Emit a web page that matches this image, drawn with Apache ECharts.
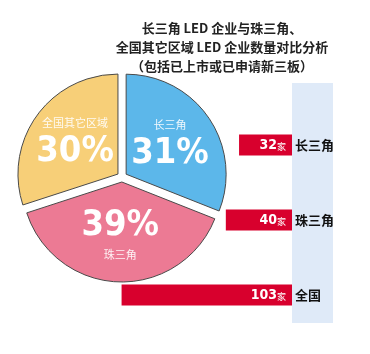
<!DOCTYPE html>
<html>
<head>
<meta charset="utf-8">
<script src="https://cdn.jsdelivr.net/npm/echarts@6/dist/echarts.min.js"></script>
<style>
  html, body { margin: 0; padding: 0; background: #fff; }
  #main { width: 370px; height: 354px; }
</style>
</head>
<body>
<div id="main"></div>
<script>
// 占比（饼图）
var pieNames = ['长三角', '珠三角', '全国其它区域']
var pieValues = [31, 39, 30]
var pieColors = ['#5cb7ea', '#ec7a94', '#f7cf78']

// 企业数量（条形图）
var barNames = ['长三角', '珠三角', '全国']
var barValues = [32, 40, 103]

var titleLines = ['长三角 LED 企业与珠三角、', '全国其它区域 LED 企业数量对比分析', '（包括已上市或已申请新三板）']

var numFont = '"DejaVu Sans Condensed", Roboto, sans-serif'

var chart = echarts.init(document.getElementById('main'))

var pieData = pieNames.map(function (n, i) {
  return {
    name: n,
    value: pieValues[i],
    selected: true,
    itemStyle: { color: pieColors[i] },
  }
})

option = {
  backgroundColor: '#fff',
  animation: false,
  title: {
    text: titleLines.join('\n'),
    left: 217,
    top: 14,
    textAlign: 'center',
    textStyle: {
      fontFamily: 'Noto Sans CJK SC',
      fontSize: 13,
      fontWeight: 'bold',
      color: '#222',
      lineHeight: 19,
    },
  },
  graphic: [
    {
      type: 'rect',
      z: 0,
      shape: { x: 292, y: 83, width: 41, height: 240 },
      style: { fill: '#dfeaf8' },
    },
  ],
  grid: { left: 110, right: 78, top: 107.5, bottom: 21.5 },
  xAxis: {
    type: 'value',
    inverse: true,
    min: 0,
    max: 110,
    show: false,
  },
  yAxis: {
    type: 'category',
    data: barNames,
    inverse: true,
    position: 'right',
    axisLine: { show: false },
    axisTick: { show: false },
    axisLabel: {
      margin: 3,
      align: 'left',
      color: '#111',
      fontFamily: 'Noto Sans CJK SC',
      fontSize: 13,
      fontWeight: 'bold',
    },
  },
  series: [
    {
      name: '企业数量',
      type: 'bar',
      z: 3,
      data: barValues,
      barWidth: 21,
      itemStyle: { color: '#d8002d' },
      label: {
        show: true,
        position: 'insideRight',
        distance: 6,
        formatter: '{n|{c}}{u|家}',
        rich: {
          n: { fontFamily: numFont, fontSize: 14, fontWeight: 'bold', color: '#fff' },
          u: { fontFamily: 'Noto Sans CJK SC', fontSize: 9, color: '#fff', padding: [3, 0, 0, 0] },
        },
      },
    },
    {
      name: '占比',
      type: 'pie',
      center: [122, 177],
      radius: 100,
      startAngle: 90,
      clockwise: true,
      selectedMode: 'multiple',
      selectedOffset: 5,
      data: pieData,
      itemStyle: { borderColor: '#4a4a4a', borderWidth: 1 },
      label: {
        show: true,
        position: 'inside',
        formatter: function (p) {
          if (p.dataIndex === 1) return '{p|' + p.value + '%}\n{n|' + p.name + '}'
          return '{n|' + p.name + '}\n{p|' + p.value + '%}'
        },
        rich: {
          n: { fontFamily: 'Noto Sans CJK SC', fontSize: 11, color: 'rgba(255,255,255,0.9)', lineHeight: 18 },
          p: { fontFamily: numFont, fontSize: 36, fontWeight: 'bold', color: '#fff', lineHeight: 40 },
        },
      },
      labelLine: { show: false },
      emphasis: { disabled: true },
    },
  ],
}
chart.setOption(option)
</script>
</body>
</html>
